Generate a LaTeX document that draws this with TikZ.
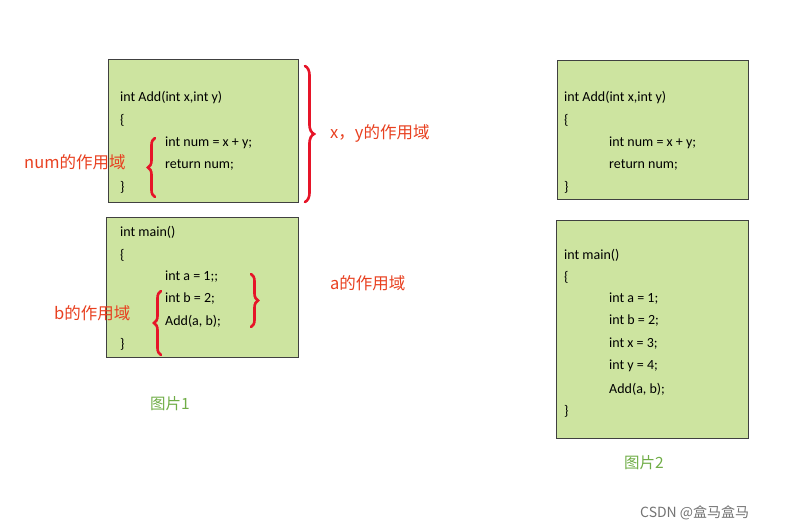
\documentclass[tikz,border=0pt]{standalone}
\usepackage{fontspec}
\setmainfont{Carlito}
\newfontfamily\cjk{Noto Sans CJK SC}
\usetikzlibrary{decorations.pathreplacing}
\definecolor{boxfill}{RGB}{205,228,160}
\definecolor{myred}{RGB}{232,64,32}
\definecolor{brred}{RGB}{230,20,40}
\definecolor{mygreen}{RGB}{112,173,71}
\begin{document}
\begin{tikzpicture}[x=1pt,y=-1pt,
  box/.style={draw=black!75,fill=boxfill,line width=1pt},
  code/.style={anchor=west,inner sep=0pt,font=\fontsize{14}{16}\selectfont},
  lab/.style={anchor=west,inner sep=0pt,text=myred,font=\cjk\fontsize{16.5}{19}\selectfont},
  figcap/.style={anchor=west,inner sep=0pt,text=mygreen,font=\cjk\fontsize{15.5}{18}\selectfont},
  br/.style={draw=brred,line width=2.6pt,line cap=round,decorate,decoration={brace,amplitude=7pt}}]
\useasboundingbox (0,0) rectangle (788,532);
% boxes
\node[box,minimum width=190pt,minimum height=143pt,inner sep=0pt] (b1) at (203,131.5) {};
\node[box,minimum width=192pt,minimum height=139pt,inner sep=0pt] (b2) at (202,287.5) {};
\node[box,minimum width=191pt,minimum height=139pt,inner sep=0pt] (b3) at (652.5,130.5) {};
\node[box,minimum width=192pt,minimum height=217pt,inner sep=0pt] (b4) at (652,329.5) {};
% picture 1 text
\node[code] (t1) at (120,98) {int Add(int x,int y)};
\node[code] (t2) at (120,120) {\{};
\node[code] (t3) at (165,143) {int num = x + y;};
\node[code] (t4) at (165,165) {return num;};
\node[code] (t5) at (120,187) {\}};
\node[code] (u1) at (120,232) {int main()};
\node[code] (u2) at (120,255) {\{};
\node[code] (u3) at (165,277) {int a = 1;;};
\node[code] (u4) at (165,299) {int b = 2;};
\node[code] (u5) at (165,321) {Add(a, b);};
\node[code] (u6) at (120,344) {\}};
% picture 2 text
\node[code] (v1) at (564,98) {int Add(int x,int y)};
\node[code] (v2) at (564,120) {\{};
\node[code] (v3) at (609,143) {int num = x + y;};
\node[code] (v4) at (609,165) {return num;};
\node[code] (v5) at (564,187) {\}};
\node[code] (w1) at (564,255) {int main()};
\node[code] (w2) at (564,277) {\{};
\node[code] (w3) at (609,299) {int a = 1;};
\node[code] (w4) at (609,321) {int b = 2;};
\node[code] (w5) at (609,344) {int x = 3;};
\node[code] (w6) at (609,366) {int y = 4;};
\node[code] (w7) at (609,389) {Add(a, b);};
\node[code] (w8) at (564,411) {\}};
% braces
\draw[br,decoration={amplitude=9pt}] (305,66) -- (305,202);
\draw[br,decoration={mirror}] (155,138) -- (155,197);
\draw[br] (251,274) -- (251,327);
\draw[br,decoration={mirror}] (161,291) -- (161,355);
% labels
\node[lab] (l1) at (330,133) {x，y的作用域};
\node[lab] (l2) at (24,162) {num的作用域};
\node[lab] (l3) at (330,283) {a的作用域};
\node[lab] (l4) at (54,313) {b的作用域};
\node[figcap] (c1) at (150,404) {图片1};
\node[figcap] (c2) at (624,463) {图片2};
\node[anchor=west,inner sep=0pt,text=black!55,font=\cjk\fontsize{14}{16}\selectfont] (wm) at (640,513) {CSDN @盒马盒马};
\end{tikzpicture}
\end{document}
